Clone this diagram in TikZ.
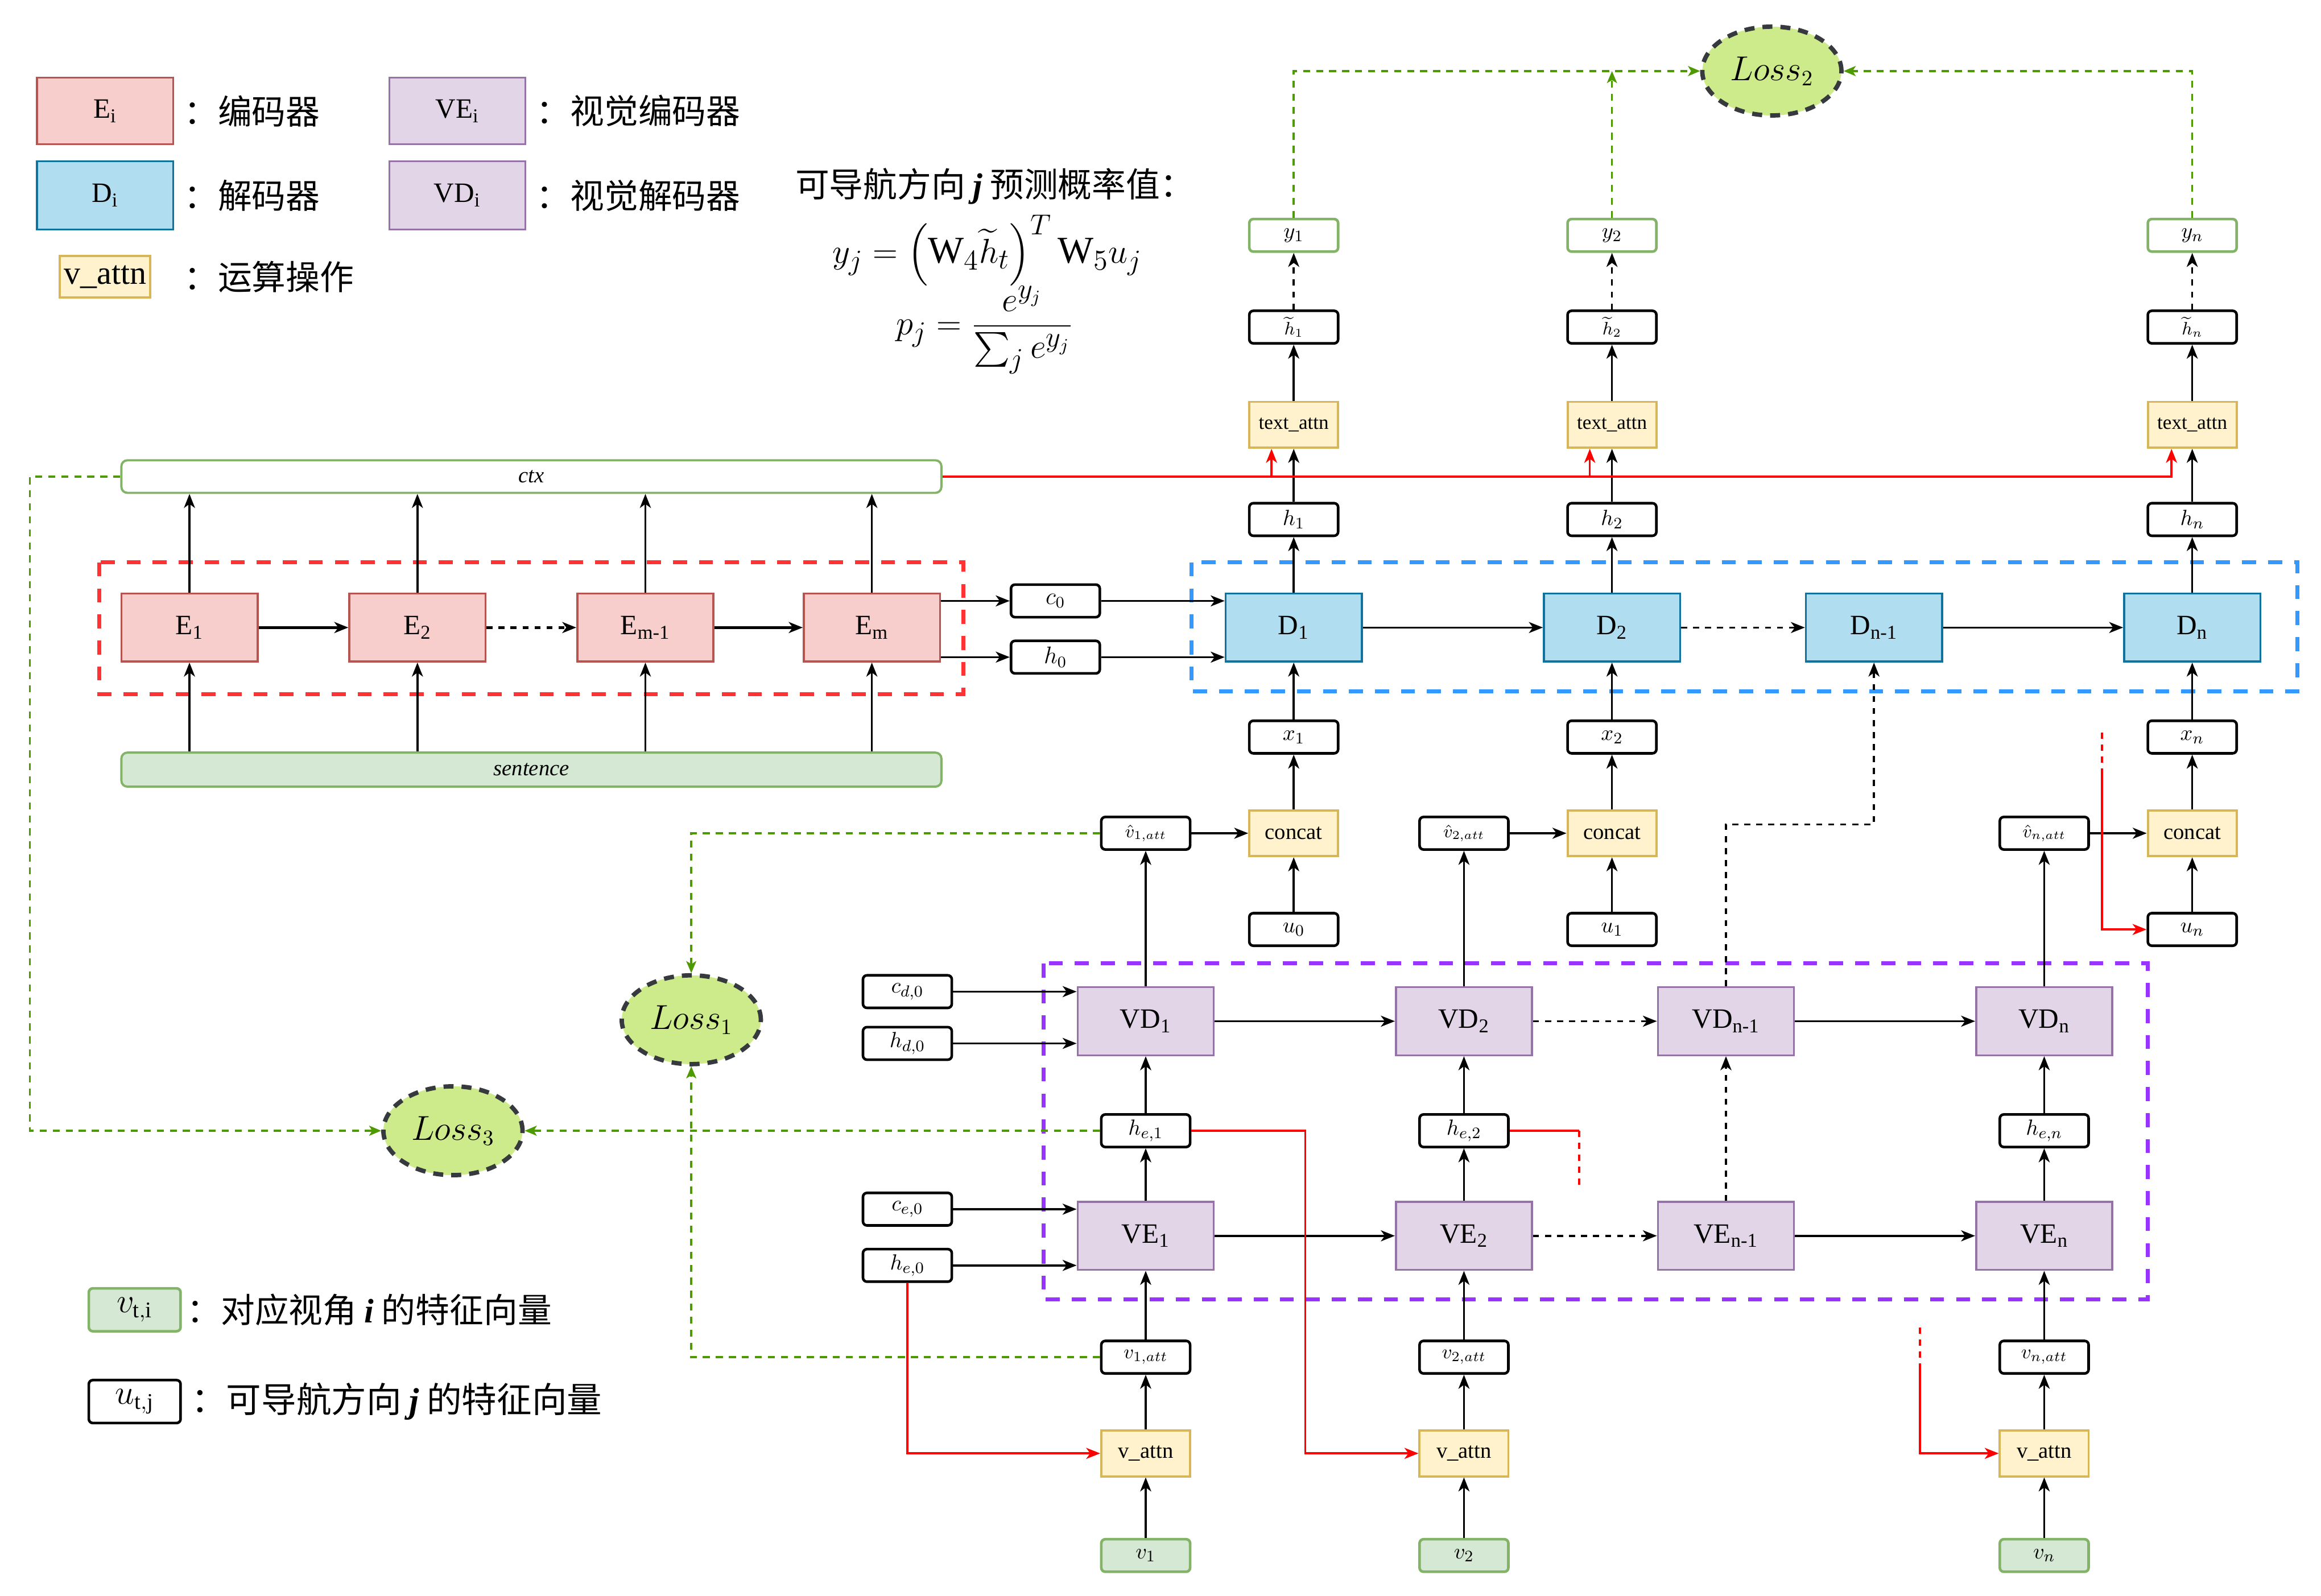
\documentclass[tikz,border=0pt]{standalone}
\usepackage{amsmath}
\usepackage{fontspec}
\setmainfont{Liberation Serif}
\newfontfamily\cjk{Noto Sans CJK SC}
\usetikzlibrary{arrows.meta,shapes.geometric}

\definecolor{encfill}{HTML}{F8CECC}
\definecolor{encline}{HTML}{B85450}
\definecolor{decfill}{HTML}{B1DDF0}
\definecolor{decline}{HTML}{10739E}
\definecolor{visfill}{HTML}{E1D5E7}
\definecolor{visline}{HTML}{9673A6}
\definecolor{opfill}{HTML}{FFF2CC}
\definecolor{opline}{HTML}{D6B656}
\definecolor{ingreen}{HTML}{D5E8D4}
\definecolor{inlinegreen}{HTML}{82B366}
\definecolor{lossfill}{HTML}{CDEB8B}
\definecolor{lossline}{HTML}{36393D}
\definecolor{lossarrow}{HTML}{4D9900}
\definecolor{encgroup}{HTML}{FF3333}
\definecolor{decgroup}{HTML}{3399FF}
\definecolor{visgroup}{HTML}{9933FF}

\newcommand{\gu}{0.026cm}
\newcommand{\bij}[1]{{\rmfamily\bfseries\itshape #1}}

\tikzset{
        blk/.style={draw, line width=1pt, minimum width=92*\gu, minimum height=46*\gu,
          inner sep=0pt, font=\fontsize{14}{16}\selectfont},
        encbox/.style={blk, fill=encfill, draw=encline},
        decbox/.style={blk, fill=decfill, draw=decline},
        visbox/.style={blk, fill=visfill, draw=visline},
        varbox/.style={draw, rounded corners=2pt, line width=1.3pt, fill=white,
          minimum width=60*\gu, minimum height=22*\gu, inner sep=0pt,
          font=\fontsize{11}{13}\selectfont},
        outbox/.style={varbox, draw=inlinegreen},
        inbox/.style={varbox, draw=inlinegreen, fill=ingreen},
        opbox/.style={draw=opline, fill=opfill, line width=1.1pt, minimum width=60*\gu,
          minimum height=31*\gu, inner sep=0pt, font=\fontsize{11}{13}\selectfont},
        barbox/.style={draw=inlinegreen, rounded corners=3pt, line width=1.1pt, fill=white,
          minimum width=554*\gu, minimum height=22*\gu, inner sep=0pt,
          font=\fontsize{11}{13}\selectfont},
        lossnode/.style={ellipse, fill=lossfill, draw=lossline, line width=2.2pt,
          dash pattern=on 5pt off 4pt, minimum width=94*\gu, minimum height=60*\gu,
          inner sep=0pt, font=\fontsize{16}{18}\selectfont},
        groupbox/.style={line width=2pt, dash pattern=on 7pt off 6pt},
        arr/.style={-{Stealth[length=7pt,width=5.5pt,inset=2pt]}, line width=1pt},
        redline/.style={draw=red, line width=1pt},
        redarr/.style={redline, -{Stealth[length=7pt,width=5.5pt,inset=2pt]}},
        greenarr/.style={draw=lossarrow, line width=1pt, dash pattern=on 3.5pt off 3pt,
          -{Stealth[length=6pt,width=5pt,inset=1.5pt]}},
        lgtext/.style={anchor=west, inner sep=0pt, font=\cjk\fontsize{17}{20}\selectfont}
}

\begin{document}
\begin{tikzpicture}[x=\gu, y=-\gu]
        \useasboundingbox (0,0) rectangle (1568,1078) ;

        % legend
        \node[encbox, minimum height=45*\gu] (lgE) at (71,75) {E\textsubscript{i}} ;
        \node[lgtext] (lgEt) at (124,75) {：编码器} ;
        \node[visbox, minimum height=45*\gu] (lgVE) at (309,75) {VE\textsubscript{i}} ;
        \node[lgtext] (lgVEt) at (362,75) {：视觉编码器} ;
        \node[decbox] (lgD) at (71,132) {D\textsubscript{i}} ;
        \node[lgtext] (lgDt) at (124,132) {：解码器} ;
        \node[visbox] (lgVD) at (309,132) {VD\textsubscript{i}} ;
        \node[lgtext] (lgVDt) at (362,132) {：视觉解码器} ;
        \node[opbox, minimum width=61*\gu, minimum height=28*\gu,
          font=\fontsize{16.5}{18}\selectfont] (lgop) at (71,187) {v\_attn} ;
        \node[lgtext] (lgopt) at (124,187) {：运算操作} ;
        \node[inbox, minimum width=62*\gu, minimum height=29*\gu,
          font=\fontsize{16}{18}\selectfont] (lgv) at (91,885) {$v_{\mathrm{t,i}}$} ;
        \node[lgtext] (lgvt) at (126,885) {：对应视角 \bij{i} 的特征向量} ;
        \node[varbox, minimum width=62*\gu, minimum height=29*\gu,
          font=\fontsize{16}{18}\selectfont] (lgu) at (91,947) {$u_{\mathrm{t,j}}$} ;
        \node[lgtext, font=\cjk\fontsize{17.5}{20}\selectfont] (lgut) at (129,947)
          {：可导航方向 \bij{j} 的特征向量} ;

        % formula
        \node[anchor=west, inner sep=0pt, font=\cjk\fontsize{17}{19}\selectfont] (ftitle)
          at (537,126) {可导航方向 \bij{j} 预测概率值：} ;
        \node[inner sep=0pt, font=\fontsize{19}{22}\selectfont] (feq1) at (667,169)
          {$y_j=\left(\mathrm{W}_4\widetilde{h}_t\right)^T\mathrm{W}_5u_j$} ;
        \node[inner sep=0pt, font=\fontsize{19}{22}\selectfont] (feq2) at (665,223)
          {$p_j=\dfrac{e^{y_j}}{\sum_j e^{y_j}}$} ;

        % group frames
        \draw[groupbox, draw=encgroup] (67,380) rectangle (651,469) ;
        \draw[groupbox, draw=decgroup] (805,380) rectangle (1552,467) ;
        \draw[groupbox, draw=visgroup] (705,651) rectangle (1451,878) ;

        % encoder
        \node[barbox] (ctx) at (359,322) {\textit{ctx}} ;
        \node[barbox, fill=ingreen, minimum height=23*\gu] (sent) at (359,520) {\textit{sentence}} ;
        \node[encbox] (E1) at (128,424) {E\textsubscript{1}} ;
        \node[encbox] (E2) at (282,424) {E\textsubscript{2}} ;
        \node[encbox] (Em1) at (436,424) {E\textsubscript{m-1}} ;
        \node[encbox] (Em) at (589,424) {E\textsubscript{m}} ;
        \node[varbox, font=\fontsize{12}{14}\selectfont] (c0) at (713,406) {$c_0$} ;
        \node[varbox, font=\fontsize{12}{14}\selectfont] (h0) at (713,444) {$h_0$} ;

        % decoder
        \node[decbox] (D1) at (874,424) {D\textsubscript{1}} ;
        \node[decbox] (D2) at (1089,424) {D\textsubscript{2}} ;
        \node[decbox] (Dn1) at (1266,424) {D\textsubscript{n-1}} ;
        \node[decbox] (Dn) at (1481,424) {D\textsubscript{n}} ;
        \node[varbox] (h1) at (874,351) {$h_1$} ;
        \node[varbox] (h2) at (1089,351) {$h_2$} ;
        \node[varbox] (hn) at (1481,351) {$h_n$} ;
        \node[opbox, font=\fontsize{10}{12}\selectfont] (ta1) at (874,287) {text\_attn} ;
        \node[opbox, font=\fontsize{10}{12}\selectfont] (ta2) at (1089,287) {text\_attn} ;
        \node[opbox, font=\fontsize{10}{12}\selectfont] (tan) at (1481,287) {text\_attn} ;
        \node[varbox, font=\fontsize{9}{11}\selectfont] (ht1) at (874,221) {$\widetilde{h}_1$} ;
        \node[varbox, font=\fontsize{9}{11}\selectfont] (ht2) at (1089,221) {$\widetilde{h}_2$} ;
        \node[varbox, font=\fontsize{9}{11}\selectfont] (htn) at (1481,221) {$\widetilde{h}_n$} ;
        \node[outbox] (y1) at (874,159) {$y_1$} ;
        \node[outbox] (y2) at (1089,159) {$y_2$} ;
        \node[outbox] (yn) at (1481,159) {$y_n$} ;
        \node[varbox] (x1) at (874,498) {$x_1$} ;
        \node[varbox] (x2) at (1089,498) {$x_2$} ;
        \node[varbox] (xn) at (1481,498) {$x_n$} ;
        \node[opbox] (cc1) at (874,563) {concat} ;
        \node[opbox] (cc2) at (1089,563) {concat} ;
        \node[opbox] (ccn) at (1481,563) {concat} ;
        \node[varbox] (uc1) at (874,628) {$u_0$} ;
        \node[varbox] (uc2) at (1089,628) {$u_1$} ;
        \node[varbox] (ucn) at (1481,628) {$u_n$} ;
        \node[varbox, font=\fontsize{9}{11}\selectfont] (vh1) at (774,563) {$\hat{v}_{1,att}$} ;
        \node[varbox, font=\fontsize{9}{11}\selectfont] (vh2) at (989,563) {$\hat{v}_{2,att}$} ;
        \node[varbox, font=\fontsize{9}{11}\selectfont] (vhn) at (1381,563) {$\hat{v}_{n,att}$} ;

        % visual encoder / decoder
        \node[visbox] (VD1) at (774,690) {VD\textsubscript{1}} ;
        \node[visbox] (VD2) at (989,690) {VD\textsubscript{2}} ;
        \node[visbox] (VDn1) at (1166,690) {VD\textsubscript{n-1}} ;
        \node[visbox] (VDn) at (1381,690) {VD\textsubscript{n}} ;
        \node[visbox] (VE1) at (774,835) {VE\textsubscript{1}} ;
        \node[visbox] (VE2) at (989,835) {VE\textsubscript{2}} ;
        \node[visbox] (VEn1) at (1166,835) {VE\textsubscript{n-1}} ;
        \node[visbox] (VEn) at (1381,835) {VE\textsubscript{n}} ;
        \node[varbox] (cd0) at (613,670) {$c_{d,0}$} ;
        \node[varbox] (hd0) at (613,705) {$h_{d,0}$} ;
        \node[varbox] (ce0) at (613,817) {$c_{e,0}$} ;
        \node[varbox] (he0) at (613,855) {$h_{e,0}$} ;
        \node[varbox] (he1) at (774,764) {$h_{e,1}$} ;
        \node[varbox] (he2) at (989,764) {$h_{e,2}$} ;
        \node[varbox] (hen) at (1381,764) {$h_{e,n}$} ;
        \node[varbox, font=\fontsize{10}{12}\selectfont] (vt1) at (774,917) {$v_{1,att}$} ;
        \node[varbox, font=\fontsize{10}{12}\selectfont] (vt2) at (989,917) {$v_{2,att}$} ;
        \node[varbox, font=\fontsize{10}{12}\selectfont] (vtn) at (1381,917) {$v_{n,att}$} ;
        \node[opbox] (va1) at (774,982) {v\_attn} ;
        \node[opbox] (va2) at (989,982) {v\_attn} ;
        \node[opbox] (van) at (1381,982) {v\_attn} ;
        \node[inbox] (v1) at (774,1051) {$v_1$} ;
        \node[inbox] (v2) at (989,1051) {$v_2$} ;
        \node[inbox] (vn) at (1381,1051) {$v_n$} ;

        % losses
        \node[lossnode] (L2) at (1197,48) {$Loss_2$} ;
        \node[lossnode] (L1) at (467,689) {$Loss_1$} ;
        \node[lossnode] (L3) at (306,764) {$Loss_3$} ;

        % encoder arrows
        \draw[arr] (sent.north -| E1.south) -- (E1.south) ;
        \draw[arr] (sent.north -| E2.south) -- (E2.south) ;
        \draw[arr] (sent.north -| Em1.south) -- (Em1.south) ;
        \draw[arr] (sent.north -| Em.south) -- (Em.south) ;
        \draw[arr] (E1.north) -- (ctx.south -| E1.north) ;
        \draw[arr] (E2.north) -- (ctx.south -| E2.north) ;
        \draw[arr] (Em1.north) -- (ctx.south -| Em1.north) ;
        \draw[arr] (Em.north) -- (ctx.south -| Em.north) ;
        \draw[arr, line width=1.4pt] (E1) -- (E2) ;
        \draw[arr, line width=1.4pt, dash pattern=on 3pt off 3pt] (E2) -- (Em1) ;
        \draw[arr, line width=1.4pt] (Em1) -- (Em) ;
        \draw[arr] (Em.east |- c0) -- (c0) ;
        \draw[arr] (Em.east |- h0) -- (h0) ;
        \draw[arr] (c0) -- (D1.west |- c0) ;
        \draw[arr] (h0) -- (D1.west |- h0) ;

        % decoder arrows
        \draw[arr] (D1) -- (D2) ;
        \draw[arr, dashed] (D2) -- (Dn1) ;
        \draw[arr] (Dn1) -- (Dn) ;
        \draw[arr] (D1) -- (h1) ;
        \draw[arr] (D2) -- (h2) ;
        \draw[arr] (Dn) -- (hn) ;
        \draw[arr] (h1) -- (ta1) ;
        \draw[arr] (h2) -- (ta2) ;
        \draw[arr] (hn) -- (tan) ;
        \draw[arr] (ta1) -- (ht1) ;
        \draw[arr] (ta2) -- (ht2) ;
        \draw[arr] (tan) -- (htn) ;
        \draw[arr, dashed] (ht1) -- (y1) ;
        \draw[arr, dashed] (ht2) -- (y2) ;
        \draw[arr, dashed] (htn) -- (yn) ;
        \draw[arr] (x1) -- (D1) ;
        \draw[arr] (x2) -- (D2) ;
        \draw[arr] (xn) -- (Dn) ;
        \draw[arr] (cc1) -- (x1) ;
        \draw[arr] (cc2) -- (x2) ;
        \draw[arr] (ccn) -- (xn) ;
        \draw[arr] (uc1) -- (cc1) ;
        \draw[arr] (uc2) -- (cc2) ;
        \draw[arr] (ucn) -- (ccn) ;
        \draw[arr] (vh1) -- (cc1) ;
        \draw[arr] (vh2) -- (cc2) ;
        \draw[arr] (vhn) -- (ccn) ;

        % visual arrows
        \draw[arr] (VD1) -- (VD2) ;
        \draw[arr, dashed] (VD2) -- (VDn1) ;
        \draw[arr] (VDn1) -- (VDn) ;
        \draw[arr] (VE1) -- (VE2) ;
        \draw[arr, dashed] (VE2) -- (VEn1) ;
        \draw[arr] (VEn1) -- (VEn) ;
        \draw[arr] (VD1) -- (vh1) ;
        \draw[arr] (VD2) -- (vh2) ;
        \draw[arr] (VDn) -- (vhn) ;
        \draw[arr] (VE1) -- (he1) ;
        \draw[arr] (VE2) -- (he2) ;
        \draw[arr] (VEn) -- (hen) ;
        \draw[arr] (he1) -- (VD1) ;
        \draw[arr] (he2) -- (VD2) ;
        \draw[arr] (hen) -- (VDn) ;
        \draw[arr, dashed] (VEn1) -- (VDn1) ;
        \coordinate (vdup) at (1166,557) ;
        \draw[arr, dashed] (VDn1.north) -- (vdup) -| (Dn1.south) ;
        \draw[arr] (vt1) -- (VE1) ;
        \draw[arr] (vt2) -- (VE2) ;
        \draw[arr] (vtn) -- (VEn) ;
        \draw[arr] (va1) -- (vt1) ;
        \draw[arr] (va2) -- (vt2) ;
        \draw[arr] (van) -- (vtn) ;
        \draw[arr] (v1) -- (va1) ;
        \draw[arr] (v2) -- (va2) ;
        \draw[arr] (vn) -- (van) ;
        \draw[arr] (cd0) -- (VD1.west |- cd0) ;
        \draw[arr] (hd0) -- (VD1.west |- hd0) ;
        \draw[arr] (ce0) -- (VE1.west |- ce0) ;
        \draw[arr] (he0) -- (VE1.west |- he0) ;

        % red connections
        \draw[redarr] (ctx.east) -| ([xshift=-14*\gu]tan.south) ;
        \draw[redarr] ([xshift=-15*\gu]ta1.south |- ctx.east) -- ([xshift=-15*\gu]ta1.south) ;
        \draw[redarr] ([xshift=-15*\gu]ta2.south |- ctx.east) -- ([xshift=-15*\gu]ta2.south) ;
        \draw[redarr] (he0) |- (va1) ;
        \draw[redarr] (he1.east) -- ++(77,0) |- (va2) ;
        \draw[redline] (he2.east) -- ++(47,0) coordinate (rd2) ;
        \draw[redline, dashed] (rd2) -- ++(0,40) ;
        \coordinate (rdn) at (1297,897) ;
        \draw[redline, dashed] (rdn) -- ++(0,25) coordinate (rdn2) ;
        \draw[redarr] (rdn2) |- (van) ;
        \coordinate (rdu) at (1420,495) ;
        \draw[redline, dashed] (rdu) -- ++(0,27) coordinate (rdu2) ;
        \draw[redarr] (rdu2) |- (ucn) ;

        % losses
        \draw[greenarr] (vh1) -| (L1) ;
        \draw[greenarr] (vt1) -| (L1) ;
        \draw[greenarr] (he1) -- (L3) ;
        \draw[greenarr] (ctx.west) -- ++(-61,0) |- (L3) ;
        \draw[greenarr] (y1) |- (L2) ;
        \draw[greenarr] (y2) -- (y2 |- L2) ;
        \draw[greenarr] (yn) |- (L2) ;
\end{tikzpicture}
\end{document}
